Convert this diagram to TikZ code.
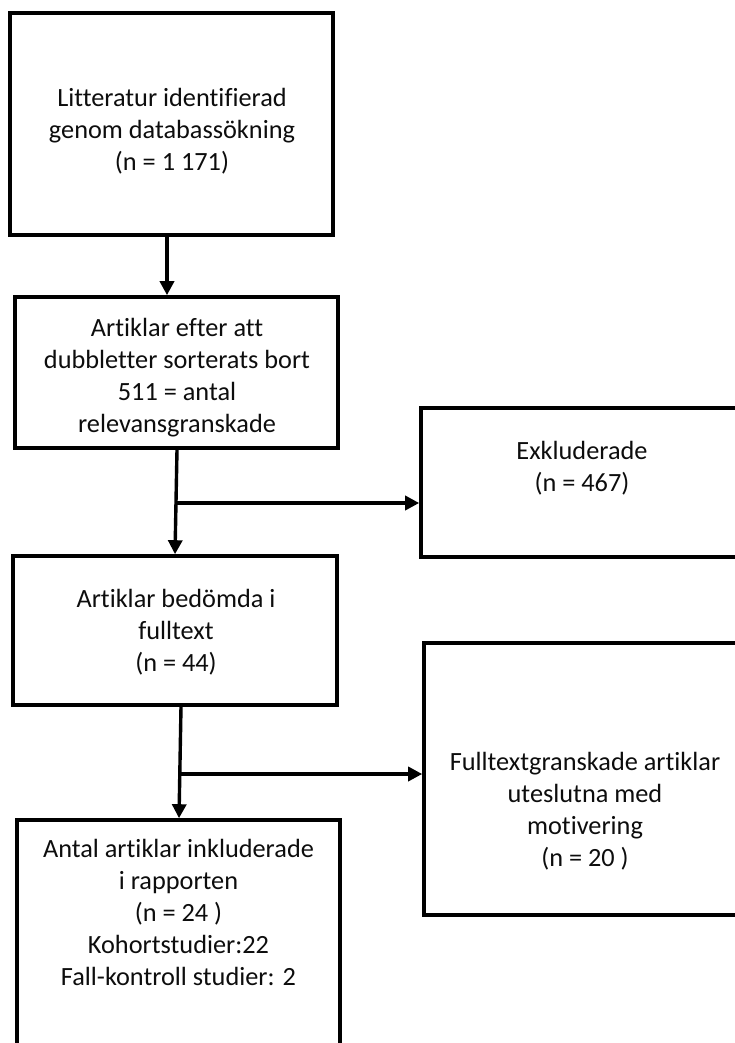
\documentclass[tikz,border=0pt]{standalone}
\usepackage{fontspec}
\setmainfont{Carlito}[Ligatures={NoCommon,NoRare,NoContextual}]
\usetikzlibrary{arrows.meta}
\begin{document}
\begin{tikzpicture}[x=1pt,y=-1pt,
  box/.style={draw=black,line width=3.6pt,inner sep=0pt},
  lbl/.style={align=center,font=\fontsize{26.3}{32}\selectfont,inner sep=0pt,text=black!95},
  arr/.style={line width=3.4pt,-{Triangle[length=14pt,width=14pt]}},
  ln/.style={line width=3.4pt}]
\useasboundingbox (0,0) rectangle (735,1043);
\clip (0,0) rectangle (735,1043);
% boxes
\node[box,line width=4.2pt,minimum width=323pt,minimum height=222pt] (b1) at (171.5,124) {};
\node[box,minimum width=323pt,minimum height=151pt] (b2) at (176.5,372.5) {};
\node[box,minimum width=324pt,minimum height=149pt] (b3) at (583,482.5) {};
\node[box,minimum width=324pt,minimum height=149pt] (b4) at (175,630.5) {};
\node[box,minimum width=321pt,minimum height=272pt] (b5) at (584.5,779) {};
\node[box,minimum width=323pt,minimum height=240pt] (b6) at (178.5,940) {};
% texts
\node[lbl] (t1) at (172,131) {Litteratur identifierad\\genom databassökning\\(n = 1 171)};
\node[lbl] (t2) at (177,378) {Artiklar efter att\\dubbletter sorterats bort\\511 = antal\\relevansgranskade};
\node[lbl] (t3) at (582,468) {Exkluderade\\(n = 467)};
\node[lbl] (t4) at (176,632) {Artiklar bedömda i\\fulltext\\(n = 44)};
\node[lbl] (t5) at (585,811) {Fulltextgranskade artiklar\\uteslutna med\\motivering\\(n = 20 )};
\node[lbl] (t6) at (178.5,912) {Antal artiklar inkluderade\\i rapporten\\(n = 24 )\\Kohortstudier:22\\Fall-kontroll studier: 2};
% connectors
\draw[arr] ([xshift=-4.5pt]b1.south) -- ([xshift=-9.5pt]b2.north);
\coordinate (j1) at (176,503);
\draw[arr] ([xshift=0.5pt]b2.south) -- (b4.north);
\draw[arr] (j1) -- (b3.west |- j1);
\coordinate (j2) at (180,774);
\draw[arr] ([xshift=6pt]b4.south) -- ([xshift=0.5pt]b6.north);
\draw[arr] (j2) -- (b5.west |- j2);
\end{tikzpicture}
\end{document}
